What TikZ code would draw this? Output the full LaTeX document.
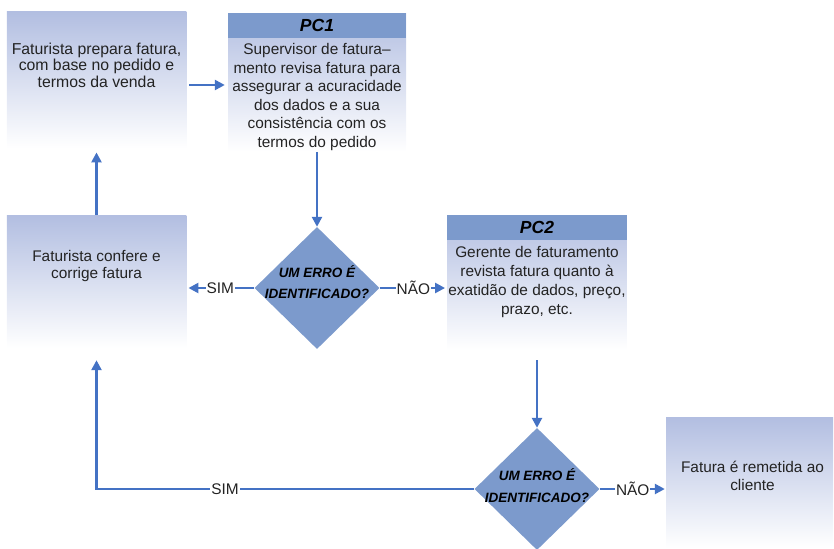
\documentclass[tikz,border=0pt]{standalone}
\usepackage{fontspec}
\setmainfont{Liberation Sans}
\usetikzlibrary{arrows.meta,shapes.geometric,positioning}
\definecolor{boxtop}{RGB}{178,190,225}
\definecolor{headblue}{RGB}{124,154,204}
\definecolor{lineblue}{RGB}{68,114,196}
\definecolor{inkgray}{RGB}{35,35,35}
\tikzset{
  basic/.style    = {rectangle, inner sep=0pt},
  box/.style      = {basic, top color=boxtop, bottom color=white},
  header/.style   = {basic, fill=headblue, minimum height=25pt,
                     font=\fontsize{17.5}{20}\selectfont\bfseries\itshape},
  txt/.style      = {align=center, inner sep=0pt, text=inkgray,
                     font=\fontsize{15.4}{18.5}\selectfont},
  decision/.style = {diamond, fill=headblue, inner sep=0pt,
                     minimum width=125pt, minimum height=122pt},
  question/.style = {align=center, inner sep=0pt,
                     font=\fontsize{13.5}{21}\selectfont\bfseries\itshape},
  tag/.style      = {fill=white, inner sep=1pt, text=inkgray,
                     font=\fontsize{15.4}{18}\selectfont},
  conn/.style     = {-{Triangle[length=10pt,width=10pt]}, draw=lineblue, line width=2.4pt}
}
\begin{document}
\begin{tikzpicture}[x=1pt,y=-1pt]
\useasboundingbox (0,0) rectangle (834,548);

% boxes: preparation, PC1, correction, PC2, delivery
\node[box, minimum width=179.5pt, minimum height=136.5pt] (prep) at (96.5,80) {};
\node[txt, font=\fontsize{15.8}{16.7}\selectfont, below=31pt of prep.north] (preptxt)
  {Faturista prepara fatura,\\com base no pedido e\\termos da venda};

\node[box, minimum width=178pt, minimum height=138.5pt] (pc1) at (317,82.5) {};
\node[header, minimum width=178pt, below=0pt of pc1.north] (pc1head) {PC1};
\node[txt, below=5pt of pc1head.south] (pc1txt)
  {Supervisor de fatura–\\mento revisa fatura para\\assegurar a acuracidade\\dos dados e a sua\\consistência com os\\termos do pedido};

\node[box, minimum width=179.5pt, minimum height=133pt] (check) at (96.5,281.5) {};
\node[txt, font=\fontsize{15.4}{17.5}\selectfont, below=35pt of check.north] (checktxt)
  {Faturista confere e\\corrige fatura};

\node[box, minimum width=179.5pt, minimum height=135pt] (pc2) at (537,282.5) {};
\node[header, minimum width=179.5pt, below=0pt of pc2.north] (pc2head) {PC2};
\node[txt, font=\fontsize{15.4}{19}\selectfont, below=6pt of pc2head.south] (pc2txt)
  {Gerente de faturamento\\revista fatura quanto à\\exatidão de dados, preço,\\prazo, etc.};

\node[box, minimum width=167pt, minimum height=131pt] (send) at (749.5,482.5) {};
\node[txt, below=44pt of send.north, xshift=3pt] (sendtxt)
  {Fatura é remetida ao\\cliente};

% decisions
\node[decision] (d1) at (317,288) {};
\node[question, yshift=6pt] (d1txt) at (d1) {UM ERRO É\\IDENTIFICADO?};
\node[decision] (d2) at (537,489) {};
\node[question, font=\fontsize{13.5}{22}\selectfont\bfseries\itshape, yshift=3pt] (d2txt) at (d2) {UM ERRO É\\IDENTIFICADO?};

% connectors
\coordinate (a1) at ([yshift=-5pt]prep.east);
\draw[conn, shorten <=3pt, shorten >=3pt] (a1) -- (a1 -| pc1.west);
\draw[conn] (pc1.south) -- (d1.north);
\draw[conn, shorten >=2pt] (d1.west) -- node[tag] {SIM} (d1.west -| check.east);
\draw[conn, shorten >=2pt] (d1.east) -- node[tag] {NÃO} (d1.east -| pc2.west);
\draw[conn, shorten >=4pt] (check.north) -- (prep.south);
\draw[conn, shorten <=10pt] (pc2.south) -- (d2.north);
\draw[conn, shorten >=12pt] (d2.west) -| node[tag, pos=0.33] {SIM} (check.south);
\draw[conn, shorten >=1pt] (d2.east) -- node[tag] {NÃO} (d2.east -| send.west);

\end{tikzpicture}
\end{document}
